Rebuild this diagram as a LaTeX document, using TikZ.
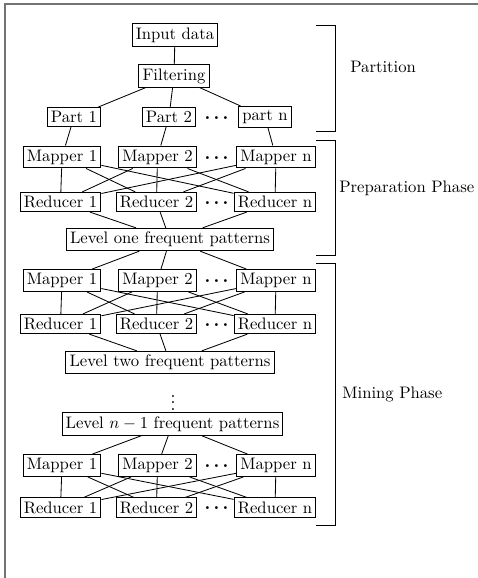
\documentclass[tikz,border=0pt]{standalone}
\begin{document}
\begin{tikzpicture}[x=0.6pt,y=-0.6pt,
  box/.style={draw, line width=0.6pt, inner sep=2.2pt},
  edge/.style={line width=0.5pt},
  hdots/.style={inner sep=0pt, font=\large\bfseries},
  bracket/.style={line width=0.6pt},
  frameline/.style={draw=black!55, line width=0.9pt}]
\useasboundingbox (0,0) rectangle (478,578);
\draw[frameline] (5,578) -- (5,4) -- (478,4);

\newcommand\mydots{.\hspace{1.6pt}.\hspace{1.6pt}.}
\newcommand\MRrow[3]{%
  \node[box] (m#1a) at (62,#2) {Mapper 1};
  \node[box] (m#1b) at (157.5,#2) {Mapper 2};
  \node[box] (m#1n) at (276,#2) {Mapper n};
  \node[hdots] (md#1) at (216.5,#2+1) {\mydots};
  \node[box] (r#1a) at (60.5,#3) {Reducer 1};
  \node[box] (r#1b) at (156.5,#3) {Reducer 2};
  \node[box] (r#1n) at (275,#3) {Reducer n};
  \node[hdots] (rd#1) at (216.5,#3+1) {\mydots};
  \foreach \mm in {a,b,n}{\foreach \rr in {a,b,n}{\draw[edge] (m#1\mm) -- (r#1\rr);}}
}

\node[box] (in) at (175,35) {Input data};
\node[box] (fil) at (174,76) {Filtering};
\node[box] (p1) at (74,117) {Part 1};
\node[box] (p2) at (169,117) {Part 2};
\node[box] (pn) at (265,117) {part n};
\node[hdots] (pd) at (216.5,118) {\mydots};
\draw[edge] (in) -- (fil);
\draw[edge] (fil) -- (p1);
\draw[edge] (fil) -- (p2);
\draw[edge] (fil) -- (pn);

\MRrow{1}{157}{202}
\draw[edge] (p1) -- (m1a);
\draw[edge] (p2) -- (m1b);
\draw[edge] (pn) -- (m1n);

\node[box] (l1) at (170,239.5) {Level one frequent patterns};
\draw[edge] (r1a) -- (l1);
\draw[edge] (r1b) -- (l1);
\draw[edge] (r1n) -- (l1);

\MRrow{2}{280.5}{324}
\draw[edge] (l1) -- (m2a);
\draw[edge] (l1) -- (m2b);
\draw[edge] (l1) -- (m2n);

\node[box] (l2) at (170,362.5) {Level two frequent patterns};
\draw[edge] (r2a) -- (l2);
\draw[edge] (r2b) -- (l2);
\draw[edge] (r2n) -- (l2);

\node[inner sep=0pt, font=\large\boldmath] (vd) at (173,398) {$\vdots$};
\node[box] (ln) at (172.5,424) {Level $n-1$ frequent patterns};

\MRrow{3}{465.5}{507.5}
\draw[edge] (ln) -- (m3a);
\draw[edge] (ln) -- (m3b);
\draw[edge] (ln) -- (m3n);

\draw[bracket] (316,25) -- (335,25) -- (335,131) -- (316,131);
\draw[bracket] (316,140) -- (335,140) -- (335,255) -- (316,255);
\draw[bracket] (316,263) -- (335,263) -- (335,525) -- (316,525);
\node[anchor=west, inner sep=0pt] (tpart) at (350,67) {Partition};
\node[anchor=west, inner sep=0pt] (tprep) at (339,188) {Preparation Phase};
\node[anchor=west, inner sep=0pt] (tmine) at (342,394) {Mining Phase};
\end{tikzpicture}
\end{document}
